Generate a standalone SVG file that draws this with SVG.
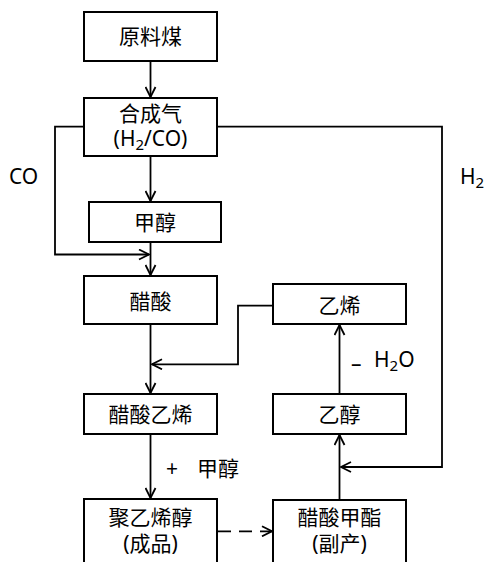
<svg xmlns="http://www.w3.org/2000/svg" width="484" height="562" viewBox="0 0 484 562">
<style>
.box{fill:#fff;stroke:#000;stroke-width:2}
.ln{fill:none;stroke:#000;stroke-width:1.8}
.t{font-family:"Noto Sans","Noto Sans CJK SC",sans-serif;font-size:21px;fill:#000;text-anchor:middle}
.l{font-family:"Noto Sans","Noto Sans CJK SC",sans-serif;font-size:21px;fill:#000}
</style>
<defs>
<marker id="ah" viewBox="0 0 12 12" refX="11" refY="6" markerWidth="12" markerHeight="12" markerUnits="userSpaceOnUse" orient="auto">
<path d="M1,1 L11,6 L1,11" fill="none" stroke="#000" stroke-width="1.8"/>
</marker>
</defs>
<g id="connectors">
<line class="ln" x1="150.5" y1="61" x2="150.5" y2="97" marker-end="url(#ah)"/>
<line class="ln" x1="150.5" y1="156" x2="150.5" y2="201" marker-end="url(#ah)"/>
<line class="ln" x1="150.5" y1="242" x2="150.5" y2="275" marker-end="url(#ah)"/>
<polyline class="ln" points="84,126.7 55,126.7 55,254.5 149,254.5" marker-end="url(#ah)"/>
<polyline class="ln" points="217,126.7 442,126.7 442,467 341,467" marker-end="url(#ah)"/>
<polyline class="ln" points="273,305.7 238,305.7 238,364.3 152,364.3" marker-end="url(#ah)"/>
<line class="ln" x1="150.5" y1="324" x2="150.5" y2="393" marker-end="url(#ah)"/>
<line class="ln" x1="339.5" y1="394" x2="339.5" y2="325" marker-end="url(#ah)"/>
<line class="ln" x1="150.5" y1="434" x2="150.5" y2="498" marker-end="url(#ah)"/>
<line class="ln" x1="339.5" y1="500" x2="339.5" y2="435" marker-end="url(#ah)"/>
<line class="ln" x1="218" y1="531.3" x2="272" y2="531.3" stroke-dasharray="13,8" marker-end="url(#ah)"/>
</g>
<g id="labels">
<text class="l" x="9" y="184">CO</text>
<text class="l" x="460" y="184">H<tspan font-size="15" dy="4">2</tspan></text>
<text class="l" x="351" y="371" font-size="14">–</text>
<text class="l" x="374" y="367">H<tspan font-size="15" dy="4">2</tspan><tspan dy="-4">O</tspan></text>
<text class="l" x="166" y="476">+</text>
<text class="l" x="197" y="476">甲醇</text>
</g>
<g id="n1"><rect class="box" x="84" y="12" width="133" height="49"/><text class="t" x="150.5" y="44">原料煤</text></g>
<g id="n2"><rect class="box" x="84" y="98" width="133" height="58"/><text class="t" x="150.5" y="121">合成气</text><text class="t" x="150.5" y="146">(H<tspan font-size="15" dy="4">2</tspan><tspan dy="-4">/CO)</tspan></text></g>
<g id="n3"><rect class="box" x="89" y="202" width="132" height="40"/><text class="t" x="155" y="230">甲醇</text></g>
<g id="n4"><rect class="box" x="84" y="276" width="133" height="48"/><text class="t" x="150.5" y="309">醋酸</text></g>
<g id="n5"><rect class="box" x="273" y="284" width="133" height="40"/><text class="t" x="339.5" y="313">乙烯</text></g>
<g id="n6"><rect class="box" x="84" y="394" width="133" height="40"/><text class="t" x="150.5" y="422">醋酸乙烯</text></g>
<g id="n7"><rect class="box" x="273" y="394" width="133" height="40"/><text class="t" x="339.5" y="422">乙醇</text></g>
<g id="n8"><rect class="box" x="84" y="499" width="133" height="80"/><text class="t" x="150.5" y="525">聚乙烯醇</text><text class="t" x="150.5" y="551">(成品)</text></g>
<g id="n9"><rect class="box" x="273" y="500" width="133" height="80"/><text class="t" x="339.5" y="525">醋酸甲酯</text><text class="t" x="339.5" y="551">(副产)</text></g>
</svg>
